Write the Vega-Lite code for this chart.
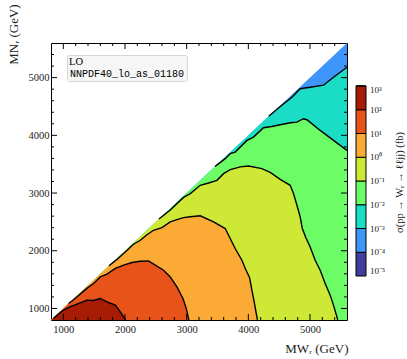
{
  "$schema": "https://vega.github.io/schema/vega-lite/v6.json",
  "autosize": {"type": "none"},
  "padding": {"left": 51, "top": 43, "right": 60, "bottom": 39},
  "width": 296,
  "height": 277,
  "config": {
    "view": {"stroke": "#000", "strokeWidth": 1},
    "axis": {"grid": false, "domain": false, "ticks": false, "tickSize": 0, "labelFont": "Liberation Serif", "titleFont": "Liberation Serif", "titleFontWeight": "normal", "labelColor": "#222", "titleColor": "#222"},
    "tick": {"opacity": 1, "thickness": 1, "color": "#000"},
    "font": "Liberation Serif"
  },
  "datasets": {
    "ticks": [
      {"value": 1000, "kind": "major"}, {"value": 2000, "kind": "major"}, {"value": 3000, "kind": "major"}, {"value": 4000, "kind": "major"}, {"value": 5000, "kind": "major"},
      {"value": 1200, "kind": "minor"}, {"value": 1400, "kind": "minor"}, {"value": 1600, "kind": "minor"}, {"value": 1800, "kind": "minor"},
      {"value": 2200, "kind": "minor"}, {"value": 2400, "kind": "minor"}, {"value": 2600, "kind": "minor"}, {"value": 2800, "kind": "minor"},
      {"value": 3200, "kind": "minor"}, {"value": 3400, "kind": "minor"}, {"value": 3600, "kind": "minor"}, {"value": 3800, "kind": "minor"},
      {"value": 4200, "kind": "minor"}, {"value": 4400, "kind": "minor"}, {"value": 4600, "kind": "minor"}, {"value": 4800, "kind": "minor"},
      {"value": 5200, "kind": "minor"}, {"value": 5400, "kind": "minor"}
    ],
    "regions": [
      {"level": -4, "x": 800, "y": 800, "contour": false},
      {"level": -4, "x": 5600, "y": 5600, "contour": false},

      {"level": -3, "x": 800, "y": 800, "contour": false},
      {"level": -3, "x": 4330, "y": 4330, "contour": true},
      {"level": -3, "x": 4517, "y": 4500, "contour": true},
      {"level": -3, "x": 4707, "y": 4661, "contour": true},
      {"level": -3, "x": 4841, "y": 4807, "contour": true},
      {"level": -3, "x": 5003, "y": 4834, "contour": true},
      {"level": -3, "x": 5219, "y": 4869, "contour": true},
      {"level": -3, "x": 5381, "y": 5007, "contour": true},
      {"level": -3, "x": 5600, "y": 5180, "contour": true},

      {"level": -2, "x": 800, "y": 800, "contour": false},
      {"level": -2, "x": 3462, "y": 3462, "contour": true},
      {"level": -2, "x": 3625, "y": 3596, "contour": true},
      {"level": -2, "x": 3706, "y": 3682, "contour": true},
      {"level": -2, "x": 3787, "y": 3710, "contour": true},
      {"level": -2, "x": 3977, "y": 3912, "contour": true},
      {"level": -2, "x": 4084, "y": 3969, "contour": true},
      {"level": -2, "x": 4246, "y": 4132, "contour": true},
      {"level": -2, "x": 4382, "y": 4154, "contour": true},
      {"level": -2, "x": 4517, "y": 4184, "contour": true},
      {"level": -2, "x": 4679, "y": 4218, "contour": true},
      {"level": -2, "x": 4788, "y": 4229, "contour": true},
      {"level": -2, "x": 4895, "y": 4288, "contour": true},
      {"level": -2, "x": 4950, "y": 4270, "contour": true},
      {"level": -2, "x": 5165, "y": 4085, "contour": true},
      {"level": -2, "x": 5381, "y": 3912, "contour": true},
      {"level": -2, "x": 5600, "y": 3739, "contour": true},

      {"level": -1, "x": 800, "y": 800, "contour": false},
      {"level": -1, "x": 2550, "y": 2550, "contour": true},
      {"level": -1, "x": 2734, "y": 2705, "contour": true},
      {"level": -1, "x": 2949, "y": 2925, "contour": true},
      {"level": -1, "x": 3058, "y": 2990, "contour": true},
      {"level": -1, "x": 3220, "y": 3134, "contour": true},
      {"level": -1, "x": 3355, "y": 3174, "contour": true},
      {"level": -1, "x": 3491, "y": 3220, "contour": true},
      {"level": -1, "x": 3598, "y": 3336, "contour": true},
      {"level": -1, "x": 3706, "y": 3405, "contour": true},
      {"level": -1, "x": 3869, "y": 3454, "contour": true},
      {"level": -1, "x": 4003, "y": 3468, "contour": true},
      {"level": -1, "x": 4220, "y": 3423, "contour": true},
      {"level": -1, "x": 4355, "y": 3359, "contour": true},
      {"level": -1, "x": 4517, "y": 3238, "contour": true},
      {"level": -1, "x": 4679, "y": 3134, "contour": true},
      {"level": -1, "x": 4733, "y": 2990, "contour": true},
      {"level": -1, "x": 4788, "y": 2788, "contour": true},
      {"level": -1, "x": 4841, "y": 2585, "contour": true},
      {"level": -1, "x": 4874, "y": 2390, "contour": true},
      {"level": -1, "x": 4930, "y": 2234, "contour": true},
      {"level": -1, "x": 5003, "y": 2066, "contour": true},
      {"level": -1, "x": 5084, "y": 1836, "contour": true},
      {"level": -1, "x": 5165, "y": 1663, "contour": true},
      {"level": -1, "x": 5246, "y": 1433, "contour": true},
      {"level": -1, "x": 5327, "y": 1231, "contour": true},
      {"level": -1, "x": 5381, "y": 1058, "contour": true},
      {"level": -1, "x": 5436, "y": 855, "contour": true},
      {"level": -1, "x": 5449, "y": 800, "contour": true},

      {"level": 0, "x": 800, "y": 800, "contour": false},
      {"level": 0, "x": 1740, "y": 1740, "contour": true},
      {"level": 0, "x": 1870, "y": 1850, "contour": true},
      {"level": 0, "x": 2004, "y": 1980, "contour": true},
      {"level": 0, "x": 2139, "y": 2113, "contour": true},
      {"level": 0, "x": 2248, "y": 2182, "contour": true},
      {"level": 0, "x": 2356, "y": 2277, "contour": true},
      {"level": 0, "x": 2463, "y": 2355, "contour": true},
      {"level": 0, "x": 2599, "y": 2402, "contour": true},
      {"level": 0, "x": 2734, "y": 2499, "contour": true},
      {"level": 0, "x": 2842, "y": 2540, "contour": true},
      {"level": 0, "x": 2949, "y": 2575, "contour": true},
      {"level": 0, "x": 3058, "y": 2589, "contour": true},
      {"level": 0, "x": 3220, "y": 2606, "contour": true},
      {"level": 0, "x": 3436, "y": 2499, "contour": true},
      {"level": 0, "x": 3625, "y": 2385, "contour": true},
      {"level": 0, "x": 3706, "y": 2212, "contour": true},
      {"level": 0, "x": 3787, "y": 2039, "contour": true},
      {"level": 0, "x": 3896, "y": 1836, "contour": true},
      {"level": 0, "x": 3950, "y": 1693, "contour": true},
      {"level": 0, "x": 4019, "y": 1537, "contour": true},
      {"level": 0, "x": 4058, "y": 1317, "contour": true},
      {"level": 0, "x": 4095, "y": 1115, "contour": true},
      {"level": 0, "x": 4128, "y": 914, "contour": true},
      {"level": 0, "x": 4149, "y": 800, "contour": true},

      {"level": 1, "x": 800, "y": 800, "contour": false},
      {"level": 1, "x": 1085, "y": 1085, "contour": true},
      {"level": 1, "x": 1166, "y": 1150, "contour": true},
      {"level": 1, "x": 1247, "y": 1225, "contour": true},
      {"level": 1, "x": 1328, "y": 1300, "contour": true},
      {"level": 1, "x": 1409, "y": 1370, "contour": true},
      {"level": 1, "x": 1490, "y": 1433, "contour": true},
      {"level": 1, "x": 1599, "y": 1547, "contour": true},
      {"level": 1, "x": 1708, "y": 1594, "contour": true},
      {"level": 1, "x": 1843, "y": 1693, "contour": true},
      {"level": 1, "x": 1977, "y": 1750, "contour": true},
      {"level": 1, "x": 2113, "y": 1796, "contour": true},
      {"level": 1, "x": 2248, "y": 1819, "contour": true},
      {"level": 1, "x": 2382, "y": 1824, "contour": true},
      {"level": 1, "x": 2491, "y": 1750, "contour": true},
      {"level": 1, "x": 2625, "y": 1663, "contour": true},
      {"level": 1, "x": 2734, "y": 1547, "contour": true},
      {"level": 1, "x": 2842, "y": 1374, "contour": true},
      {"level": 1, "x": 2940, "y": 1174, "contour": true},
      {"level": 1, "x": 2993, "y": 1001, "contour": true},
      {"level": 1, "x": 3030, "y": 828, "contour": true},
      {"level": 1, "x": 3038, "y": 800, "contour": true},

      {"level": 2, "x": 800, "y": 800, "contour": false},
      {"level": 2, "x": 842, "y": 828, "contour": true},
      {"level": 2, "x": 923, "y": 905, "contour": true},
      {"level": 2, "x": 1004, "y": 971, "contour": true},
      {"level": 2, "x": 1085, "y": 1018, "contour": true},
      {"level": 2, "x": 1221, "y": 1075, "contour": true},
      {"level": 2, "x": 1384, "y": 1144, "contour": true},
      {"level": 2, "x": 1490, "y": 1139, "contour": true},
      {"level": 2, "x": 1599, "y": 1173, "contour": true},
      {"level": 2, "x": 1708, "y": 1115, "contour": true},
      {"level": 2, "x": 1843, "y": 1058, "contour": true},
      {"level": 2, "x": 1924, "y": 942, "contour": true},
      {"level": 2, "x": 1993, "y": 828, "contour": true},
      {"level": 2, "x": 2010, "y": 800, "contour": true}
    ]
  },
  "resolve": {"axis": {"x": "independent", "y": "independent"}},
  "layer": [
    {
      "data": {"name": "regions"},
      "mark": {"type": "area", "clip": true, "interpolate": "linear"},
      "encoding": {
        "x": {"field": "x", "type": "quantitative",
          "scale": {"domain": [800, 5600], "nice": false, "zero": false},
          "axis": {"orient": "bottom", "values": [1000, 2000, 3000, 4000, 5000], "labelPadding": 4, "labelFontSize": 10.5, "format": "d",
            "title": "MWᵣ (GeV)", "titleFontSize": 13, "titleX": 297, "titleY": 28, "titleAlign": "right", "titleBaseline": "middle"}},
        "y": {"field": "y", "type": "quantitative", "stack": null,
          "scale": {"domain": [800, 5600], "nice": false, "zero": false},
          "axis": {"orient": "left", "values": [1000, 2000, 3000, 4000, 5000], "labelPadding": 2, "labelFontSize": 10.5, "format": "d", "labelBaseline": "middle",
            "title": "MNᵣ (GeV)", "titleFontSize": 13, "titleAngle": -90, "titleX": -38, "titleY": -9, "titleAlign": "center", "titleBaseline": "middle"}},
        "y2": {"datum": 800},
        "detail": {"field": "level"},
        "fill": {"field": "level", "type": "quantitative",
          "scale": {"type": "quantize", "domain": [-5, 3], "nice": false, "zero": false,
            "range": ["#3f3e9c", "#3e96fb", "#1bdcc4", "#6cfc66", "#cde935", "#fbab35", "#e8531a", "#a81b05"]},
          "legend": {"type": "gradient", "orient": "none", "legendX": 305, "legendY": 43, "direction": "vertical", "title": null,
            "values": [-5, -4, -3, -2, -1, 0, 1, 2, 3],
            "gradientLength": 190, "gradientThickness": 10, "gradientStrokeColor": "#000", "gradientStrokeWidth": 1,
            "labelFont": "Liberation Serif", "labelFontSize": 9, "labelOffset": 4, "labelColor": "#222", "padding": 0,
            "labelExpr": "datum.value < -4.5 ? '10⁻⁵' : round(datum.value) == -4 ? '10⁻⁴' : round(datum.value) == -3 ? '10⁻³' : round(datum.value) == -2 ? '10⁻²' : round(datum.value) == -1 ? '10⁻¹' : round(datum.value) == 0 ? '10⁰' : round(datum.value) == 1 ? '10¹' : round(datum.value) == 2 ? '10²' : '10³'"}}
      }
    },
    {
      "data": {"name": "regions"},
      "transform": [{"filter": "datum.contour"}],
      "mark": {"type": "line", "clip": true, "strokeWidth": 1.4},
      "encoding": {
        "x": {"field": "x", "type": "quantitative", "scale": {"domain": [800, 5600], "nice": false, "zero": false}, "axis": null},
        "y": {"field": "y", "type": "quantitative", "scale": {"domain": [800, 5600], "nice": false, "zero": false}, "axis": null},
        "detail": {"field": "level"},
        "stroke": {"datum": "NNPDF40_lo_as_01180", "type": "nominal", "scale": {"range": ["#000"]},
          "legend": {"orient": "none", "legendX": 16, "legendY": 12, "title": "LO", "titleFont": "Liberation Serif", "titleFontSize": 10.5, "titleFontWeight": "normal", "titleColor": "#000", "titlePadding": 1,
            "labelFont": "Liberation Mono", "labelFontSize": 10, "labelColor": "#000", "labelOffset": -9, "symbolSize": 0, "symbolStrokeWidth": 0,
            "padding": 2, "rowPadding": 0, "fillColor": "#f6f6f6", "strokeColor": "#d6d6d6", "cornerRadius": 2}}
      }
    },
    {
      "data": {"name": "ticks"},
      "mark": {"type": "tick", "orient": "vertical", "clip": true},
      "encoding": {
        "x": {"field": "value", "type": "quantitative", "scale": {"domain": [800, 5600], "nice": false, "zero": false}, "axis": null},
        "y": {"datum": 800, "type": "quantitative", "scale": {"domain": [800, 5600], "nice": false, "zero": false}, "axis": null},
        "size": {"field": "kind", "type": "nominal", "scale": {"domain": ["major", "minor"], "range": [12, 6]}, "legend": null}
      }
    },
    {
      "data": {"name": "ticks"},
      "mark": {"type": "tick", "orient": "vertical", "clip": true},
      "encoding": {
        "x": {"field": "value", "type": "quantitative", "scale": {"domain": [800, 5600], "nice": false, "zero": false}, "axis": null},
        "y": {"datum": 5600, "type": "quantitative", "scale": {"domain": [800, 5600], "nice": false, "zero": false}, "axis": null},
        "size": {"field": "kind", "type": "nominal", "scale": {"domain": ["major", "minor"], "range": [12, 6]}, "legend": null}
      }
    },
    {
      "data": {"name": "ticks"},
      "mark": {"type": "tick", "orient": "horizontal", "clip": true},
      "encoding": {
        "y": {"field": "value", "type": "quantitative", "scale": {"domain": [800, 5600], "nice": false, "zero": false}, "axis": null},
        "x": {"datum": 800, "type": "quantitative", "scale": {"domain": [800, 5600], "nice": false, "zero": false}, "axis": null},
        "size": {"field": "kind", "type": "nominal", "scale": {"domain": ["major", "minor"], "range": [12, 6]}, "legend": null}
      }
    },
    {
      "data": {"name": "ticks"},
      "mark": {"type": "tick", "orient": "horizontal", "clip": true},
      "encoding": {
        "y": {"field": "value", "type": "quantitative", "scale": {"domain": [800, 5600], "nice": false, "zero": false},
          "axis": {"orient": "right", "values": [1000, 2000, 3000, 4000, 5000], "labels": false,
            "title": "σ(pp → Wᵣ → ℓℓjj) (fb)", "titleFontSize": 10.5, "titleAngle": -90, "titleX": 52, "titleY": 139, "titleAlign": "center", "titleBaseline": "middle"}},
        "x": {"datum": 5600, "type": "quantitative", "scale": {"domain": [800, 5600], "nice": false, "zero": false}, "axis": null},
        "size": {"field": "kind", "type": "nominal", "scale": {"domain": ["major", "minor"], "range": [12, 6]}, "legend": null}
      }
    }
  ]
}
